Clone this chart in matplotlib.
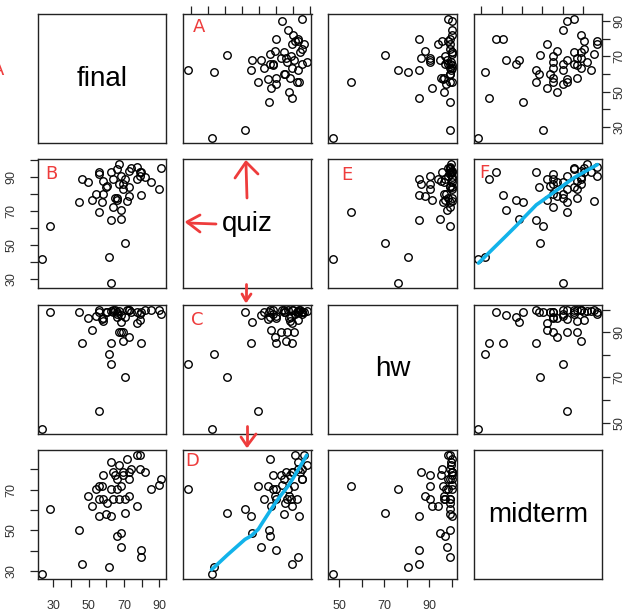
import numpy as np
import matplotlib
matplotlib.use("Agg")
import matplotlib.pyplot as plt
from matplotlib.lines import Line2D

plt.rcParams['font.family'] = ['Liberation Sans', 'DejaVu Sans']

names = ["final", "quiz", "hw", "midterm"]

# one entry per student
final = [23.8, 28.1, 44.2, 46.4, 49.8, 52.1, 54.2, 55.5, 55.5, 55.7,
         57.2, 58.0, 58.0, 59.8, 60.2, 61.3, 62.5, 62.5, 62.5, 63.6,
         63.6, 64.9, 65.8, 65.8, 65.8, 67.0, 67.0, 68.1, 68.1, 68.1,
         69.2, 69.2, 70.4, 70.6, 71.5, 72.6, 73.0, 72.6, 74.0, 77.2,
         77.2, 78.7, 78.7, 81.9, 79.6, 79.6, 85.1, 90.0, 91.1]
quiz = [41.8, 61.5, 75.7, 89.1, 87.5, 77.0, 80.0, 69.4, 93.4, 92.2,
        75.3, 87.9, 80.0, 84.5, 85.1, 43.0, 27.8, 64.8, 93.0, 72.7,
        89.1, 78.0, 95.0, 78.0, 76.5, 86.0, 97.9, 90.6, 65.8, 70.7,
        85.9, 83.0, 88.9, 51.1, 76.1, 84.5, 79.0, 93.8, 95.4, 89.1,
        96.3, 91.0, 93.0, 90.0, 79.6, 93.0, 87.1, 83.5, 95.4]
hw = [47.3, 99.1, 99.1, 85.2, 96.3, 91.0, 97.3, 55.2, 100.0, 99.0,
      96.0, 95.0, 96.5, 99.0, 99.0, 80.6, 76.1, 85.2, 99.5, 99.0,
      100.0, 100.0, 99.0, 98.0, 97.0, 90.1, 99.5, 90.1, 94.5, 97.6,
      86.1, 90.1, 97.0, 70.1, 100.0, 100.0, 88.0, 100.0, 99.0, 94.0,
      99.0, 98.0, 95.5, 100.0, 85.2, 99.0, 100.0, 100.0, 98.0]
midterm = [28.7, 60.3, 50.3, 33.8, 66.9, 62.0, 70.2, 71.8, 57.0, 65.2,
           71.8, 77.0, 65.2, 58.2, 63.6, 32.1, 70.2, 57.0, 83.6, 65.2,
           78.7, 77.0, 75.4, 70.2, 47.2, 65.2, 82.0, 71.8, 48.7, 42.1,
           78.7, 77.0, 65.2, 58.7, 85.2, 75.4, 66.9, 78.7, 80.3, 62.0,
           86.9, 86.9, 80.3, 78.7, 40.5, 37.2, 70.2, 72.1, 75.4]

data = [np.array(final), np.array(quiz), np.array(hw), np.array(midterm)]
ticks = [np.arange(30, 91, 10), np.arange(30, 101, 10),
         np.arange(50, 101, 10), np.arange(30, 81, 10)]
labelled = [[30, 50, 70, 90], [30, 50, 70, 90], [50, 70, 90], [30, 50, 70]]


def lowess(x, y, f=2/3, iters=3):
    order = np.argsort(x)
    x = x[order]
    y = y[order]
    n = len(x)
    k = int(np.ceil(f * n))
    fitted = np.zeros(n)
    robust = np.ones(n)
    for _ in range(iters + 1):
        for i in range(n):
            d = np.abs(x - x[i])
            h = np.sort(d)[k - 1]
            w = np.clip(d / max(h, 1e-12), 0, 1)
            w = (1 - w ** 3) ** 3 * robust
            sw = w.sum()
            xm = (w * x).sum() / sw
            ym = (w * y).sum() / sw
            sxx = (w * (x - xm) ** 2).sum()
            b = (w * (x - xm) * (y - ym)).sum() / sxx if sxx > 0 else 0
            fitted[i] = ym + b * (x[i] - xm)
        res = y - fitted
        s = np.median(np.abs(res))
        u = np.clip(res / (6 * s), -1, 1)
        robust = (1 - u ** 2) ** 2
    return x, fitted


# quiz <-> midterm equating curve from matched percentiles
q_sorted = np.sort(data[1])
m_sorted = np.sort(data[3])
eq_q2m = lowess(q_sorted[1:], m_sorted[1:])
eq_m2q = lowess(m_sorted, q_sorted)
curves = {(1, 3): eq_q2m, (3, 1): eq_m2q}

W, H = 634, 612
fig = plt.figure(figsize=(W / 100, H / 100), dpi=100)

lefts = [37.7, 183.0, 328.3, 473.7]
tops = [14.3, 159.3, 305.0, 450.3]
size = 128.5


def fx(px):
    return px / W


def fy(py):
    return 1 - py / H


for r in range(4):
    for c in range(4):
        ax = fig.add_axes([fx(lefts[c]), fy(tops[r] + size), size / W, size / H])
        for s in ax.spines.values():
            s.set_linewidth(1.0)
            s.set_color('#222222')
        xs, ys = data[c], data[r]
        xlo, xhi = xs.min(), xs.max()
        ylo, yhi = ys.min(), ys.max()
        ax.set_xlim(xlo - 0.04 * (xhi - xlo), xhi + 0.04 * (xhi - xlo))
        ax.set_ylim(ylo - 0.04 * (yhi - ylo), yhi + 0.04 * (yhi - ylo))
        ax.tick_params(length=5.5, width=0.9, labelsize=9, color='#222222',
                       labelcolor='#333333')
        ax.set_xticks([])
        ax.set_yticks([])
        if r == c:
            ax.text(0.5, 0.5, names[r], transform=ax.transAxes,
                    ha='center', va='center', fontsize=20)
        else:
            ax.plot(xs, ys, 'o', mfc='none', mec='black', ms=5.4, mew=1.0)
            if (c, r) in curves:
                lx, ly = curves[(c, r)]
                ax.plot(lx, ly, color='#12b3ea', lw=2.6, solid_capstyle='round')

        # outer axes in the alternating R style
        if r == 3 and c % 2 == 0:
            ax.set_xticks(ticks[c])
            ax.set_xticklabels([str(t) if t in labelled[c] else '' for t in ticks[c]])
            ax.tick_params(axis='x', pad=10)
        if r == 0 and c % 2 == 1:
            # labels of the top axes fall above the page
            ax.xaxis.tick_top()
            ax.set_xticks(ticks[c])
            ax.set_xticklabels([])
        if c == 0 and r % 2 == 1:
            ax.set_yticks(ticks[r])
            ax.set_yticklabels([str(t) if t in labelled[r] else '' for t in ticks[r]],
                               rotation=90, va='center')
            ax.tick_params(axis='y', pad=9)
        if c == 3 and r % 2 == 0:
            ax.yaxis.tick_right()
            ax.set_yticks(ticks[r])
            ax.set_yticklabels([str(t) if t in labelled[r] else '' for t in ticks[r]],
                               rotation=90, va='center')
            ax.tick_params(axis='y', pad=2.5)

# red pen notes
pen = '#ee3c3c'
notes = [("A", 199, 27), ("B", 51, 174), ("C", 197, 320), ("D", 192, 461),
         ("E", 347, 175), ("F", 484, 173), ("A", -2, 70)]
for letter, px, py in notes:
    fig.text(fx(px), fy(py), letter, color=pen, fontsize=13,
             family='DejaVu Sans', ha='center', va='center')

strokes = [
    [(247, 198), (246, 164)], [(235, 178), (246, 162), (258, 174)],
    [(216, 224), (188, 223)], [(200, 215), (187, 222), (200, 232)],
    [(246, 284), (246, 300)], [(242, 294), (246, 301), (251, 294)],
    [(247, 426), (247, 445)], [(241, 437), (247, 446), (256, 434)],
]
for pts in strokes:
    xs = [fx(p[0]) for p in pts]
    ys = [fy(p[1]) for p in pts]
    fig.add_artist(Line2D(xs, ys, color=pen, lw=2.0, solid_capstyle='round',
                          solid_joinstyle='round'))

fig.savefig("out.png", dpi=100, facecolor='white')
